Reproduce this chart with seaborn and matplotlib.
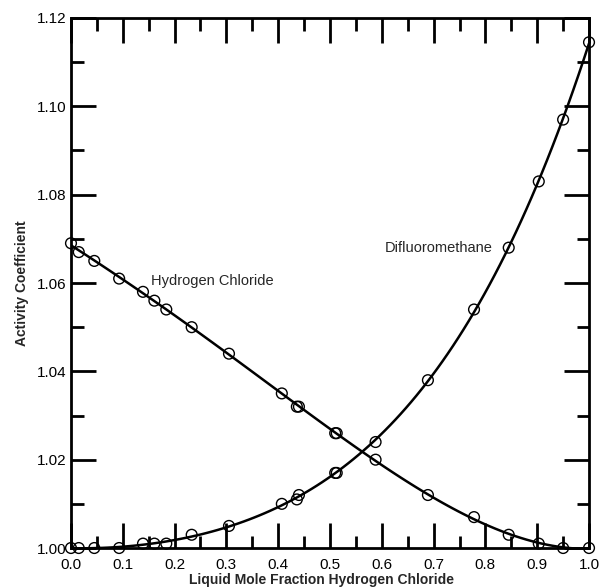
import numpy as np
import pandas as pd
import matplotlib
matplotlib.use("Agg")
import matplotlib.pyplot as plt
from matplotlib.ticker import MultipleLocator
import seaborn as sns

# Liquid mole fraction of HCl and measured activity coefficients
x_hcl = [0.0, 0.015, 0.045, 0.093, 0.139, 0.161, 0.184, 0.233, 0.305, 0.407,
         0.436, 0.440, 0.510, 0.513, 0.588, 0.689, 0.778, 0.845, 0.903, 0.950, 1.0]
gamma_hcl = [1.069, 1.067, 1.065, 1.061, 1.058, 1.056, 1.054, 1.050, 1.044, 1.035,
             1.032, 1.032, 1.026, 1.026, 1.020, 1.012, 1.007, 1.003, 1.001, 1.000, 1.000]
gamma_r32 = [1.000, 1.000, 1.000, 1.000, 1.001, 1.001, 1.001, 1.003, 1.005, 1.010,
             1.011, 1.012, 1.017, 1.017, 1.024, 1.038, 1.054, 1.068, 1.083, 1.097, 1.1145]

x_ticks = [0.0, 0.1, 0.2, 0.3, 0.4, 0.5, 0.6, 0.7, 0.8, 0.9, 1.0]
y_ticks = [1.00, 1.02, 1.04, 1.06, 1.08, 1.10, 1.12]

df = pd.DataFrame({"x": x_hcl, "hcl": gamma_hcl, "r32": gamma_r32})

sns.set_theme(style="ticks")
plt.rcParams["font.family"] = ["Liberation Sans", "DejaVu Sans"]

fig = plt.figure(figsize=(6.0, 5.88), dpi=100)
ax = fig.add_axes([0.1183, 0.068, 0.8634, 0.9014])

for col in ["hcl", "r32"]:
    sns.regplot(data=df, x="x", y=col, order=4, ci=None, scatter=False,
                truncate=True, color="black", line_kws={"lw": 1.8}, ax=ax)
    sns.scatterplot(data=df, x="x", y=col, marker="o", s=60,
                    facecolors="none", edgecolor="black", linewidth=1.0,
                    ax=ax, zorder=5, clip_on=False)

ax.set_xlim(0, 1)
ax.set_ylim(1.0, 1.12)
ax.set_xticks(x_ticks)
ax.set_yticks(y_ticks)
ax.set_xticklabels([f"{v:.1f}" for v in x_ticks])
ax.set_yticklabels([f"{v:.2f}" for v in y_ticks])
ax.xaxis.set_minor_locator(MultipleLocator(0.05))
ax.yaxis.set_minor_locator(MultipleLocator(0.01))
ax.tick_params(which="both", direction="in", top=True, right=True,
               width=2, color="black", labelsize=11, labelcolor="black")
ax.tick_params(which="major", length=18)
ax.tick_params(which="minor", length=9)
ax.tick_params(axis="x", which="major", pad=7)
ax.tick_params(axis="y", which="major", pad=3)
for s in ax.spines.values():
    s.set_linewidth(2)
    s.set_color("black")

ax.set_xlabel("Liquid Mole Fraction Hydrogen Chloride", fontsize=10,
              fontweight="bold")
ax.xaxis.set_label_coords(0.483, -0.047)
ax.set_ylabel("Activity Coefficient", fontsize=10, fontweight="bold",
              labelpad=6)

ax.text(0.155, 1.0605, "Hydrogen Chloride", fontsize=10.5, ha="left", va="center")
ax.text(0.606, 1.068, "Difluoromethane", fontsize=10.5, ha="left", va="center")

fig.savefig("out.png", dpi=100)
